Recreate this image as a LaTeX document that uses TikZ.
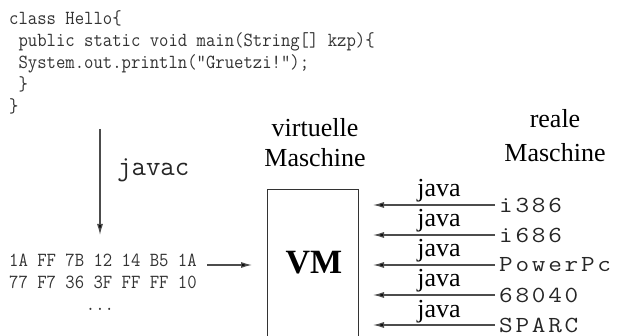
\documentclass[tikz,border=0pt]{standalone}
\usepackage{fontspec}
\usetikzlibrary{arrows.meta}
\setmainfont{Liberation Serif}
% narrow typewriter face for the source and byte code
\newfontfamily\codefont[FakeStretch=0.91,Ligatures=TeXOff]{Latin Modern Mono}
% plain typewriter face for the compiler name
\newfontfamily\cmdfont[Ligatures=TeXOff]{Latin Modern Mono}
% wide-set typewriter face for the platform names
\newfontfamily\cpufont[FakeStretch=1.15,LetterSpace=12,Ligatures=TeXOff]{Latin Modern Mono}

\begin{document}
\begin{tikzpicture}[x=1pt,y=-1pt,
  code/.style={anchor=base west,inner sep=0pt,font=\codefont\fontsize{20}{22}\selectfont,text=black!80},
  jlabel/.style={anchor=base,inner sep=0pt,font=\fontsize{26}{30}\selectfont},
  cpu/.style={anchor=west,inner sep=0pt,font=\cpufont\fontsize{23}{26}\selectfont,text=black!85},
  conn/.style={draw=black!70,line width=1.2pt,-{Latex[length=11pt,width=6pt,fill=black]}},
]
\useasboundingbox (0,0) rectangle (620,336);
\clip (0,0) rectangle (620,336);

% source program
\node[code] (l1) at (9,25) {class Hello\{};
\node[code] (l2) at (9,47) {\ public static void main(String[] kzp)\{};
\node[code] (l3) at (9,69) {\ System.out.println("Gruetzi!");};
\node[code] (l4) at (9,91) {\ \}};
\node[code] (l5) at (9,113) {\}};

% compilation step
\coordinate (cstart) at (100,129);
\coordinate (cend) at (100,235);
\draw[conn] (cstart) -- (cend);
\node[anchor=base west,inner sep=0pt,font=\cmdfont\fontsize{28}{30}\selectfont,text=black!85] (javac) at (117,176) {javac};

% byte code
\node[code] (b1) at (9,266) {1A FF 7B 12 14 B5 1A};
\node[code] (b2) at (9,288) {77 F7 36 3F FF FF 10};
\node[code,anchor=base] (b3) at (100,310) {...};

% virtual machine
\node[draw=black!80,line width=1.2pt,minimum width=91pt,minimum height=170pt,anchor=north west,inner sep=0pt] (vm) at (267,189) {};
\node[inner sep=0pt,anchor=base,font=\fontsize{34}{36}\selectfont\bfseries] (vmtext) at (314,273) {VM};
\coordinate (bstart) at (207,265);
\coordinate (bend) at (252,265);
\draw[conn] (bstart) -- (bend);

\node[align=center,inner sep=0pt,anchor=base,font=\fontsize{26}{30}\selectfont] (virt) at (315,167) {virtuelle\\Maschine};
\node[align=center,inner sep=0pt,anchor=base,font=\fontsize{26}{34}\selectfont] (real) at (555,162) {reale\\Maschine};

% real machines feeding the virtual machine
\foreach \name/\y in {i386/205, i686/235, PowerPc/265, 68040/295, SPARC/325}{
  \node[cpu] (cpu-\name) at (499,\y) {\name};
  \coordinate (tip-\name) at (373,\y);
  \draw[conn] (cpu-\name.west) ++(-4,0) coordinate (from-\name) -- (tip-\name);
  \node[jlabel] (java-\name) at (439,\y-8) {java};
}
\end{tikzpicture}
\end{document}
